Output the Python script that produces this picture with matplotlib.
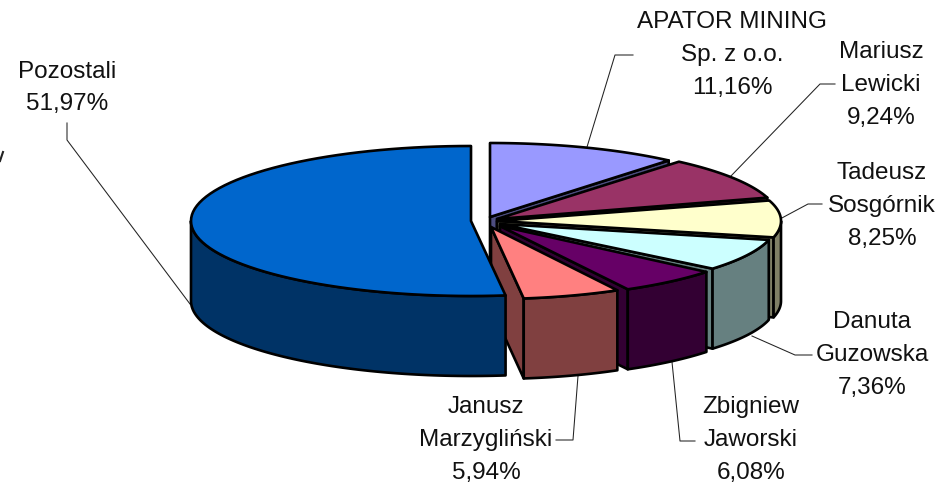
import numpy as np
import matplotlib
matplotlib.use("Agg")
import matplotlib.pyplot as plt

plt.rcParams['font.family'] = ['Liberation Sans', 'DejaVu Sans']

# slices clockwise from 12 o'clock
labels = ["APATOR MINING\nSp. z o.o.", "Mariusz\nLewicki", "Tadeusz\nSosgórnik", "Danuta\nGuzowska",
          "Zbigniew\nJaworski", "Janusz\nMarzygliński", "Pozostali"]
values = [11.16, 9.24, 8.25, 7.36, 6.08, 5.94, 51.97]
colors = ["#9999FF", "#993366", "#FFFFCC", "#CCFFFF", "#660066", "#FF8080", "#0066CC"]

# where each exploded slice sits on the canvas (pixels), and its ellipse radii
tips = [(490, 218), (497, 220), (497, 222), (500, 225), (500, 227), (491, 228), (471, 222)]
radii = [(277, 74), (282, 75), (284, 72), (276, 70), (268, 72), (265, 72), (280, 75)]
depth = 80

# label centre and leader line for each slice
label_pos = [(732, 55), (881, 85), (882, 206), (872, 355), (751, 440), (486, 440), (67, 88)]
leaders = [
    [(633, 56), (615, 56), (587, 148)],
    [(835, 85), (820, 85), (730, 178)],
    [(822, 205), (808, 205), (780, 220)],
    [(812, 356), (795, 356), (752, 337)],
    [(695, 442), (680, 442), (672, 363)],
    [(556, 441), (573, 441), (578, 377)],
    [(67, 124), (67, 141), (190, 305)],
]


def arc(tip, r, t1, t2):
    t = np.radians(np.linspace(t1, t2, 80))
    return tip[0] + r[0] * np.sin(t), tip[1] - r[1] * np.cos(t)


def darker(c):
    return tuple(0.5 * v for v in matplotlib.colors.to_rgb(c))


fig = plt.figure(figsize=(9.49, 4.85), dpi=100)
ax = fig.add_axes([0, 0, 1, 1])
ax.set_xlim(0, 949)
ax.set_ylim(485, 0)
ax.axis("off")

for pts in leaders:
    ax.plot([p[0] for p in pts], [p[1] for p in pts], color="#222222", lw=0.75, zorder=1)

# bit of clipped text at the left edge
ax.plot([0, 3], [162, 153], color="#222222", lw=1.5, zorder=1)

edges = np.cumsum([0] + values) / sum(values) * 360
line = dict(edgecolor="black", linewidth=1.9, joinstyle="round")

# painter's order: back right slices first, big slice last
for i in range(len(values)):
    t1, t2 = edges[i], edges[i + 1]
    tip, r = tips[i], radii[i]
    side = darker(colors[i])
    x, y = arc(tip, r, t1, t2)

    # radial wall at the clockwise end
    if t2 < 270:
        wx = [tip[0], x[-1], x[-1], tip[0]]
        wy = [tip[1], y[-1], y[-1] + depth, tip[1] + depth]
        ax.fill(wx, wy, facecolor=side, zorder=2 + i, **line)

    # outer wall, front part of the ellipse only
    a, b = max(t1, 90), min(t2, 270)
    if a < b:
        ox, oy = arc(tip, r, a, b)
        ax.fill(np.r_[ox, ox[::-1]], np.r_[oy, oy[::-1] + depth], facecolor=side, zorder=2 + i, **line)

    # top face
    ax.fill(np.r_[tip[0], x], np.r_[tip[1], y], facecolor=colors[i], zorder=2 + i, **line)

for name, val, pos in zip(labels, values, label_pos):
    txt = name + "\n" + f"{val:.2f}%".replace(".", ",")
    ax.text(pos[0], pos[1], txt, ha="center", va="center", fontsize=17.5, linespacing=1.62, color="#111111", zorder=20)

fig.savefig("out.png", dpi=100)
